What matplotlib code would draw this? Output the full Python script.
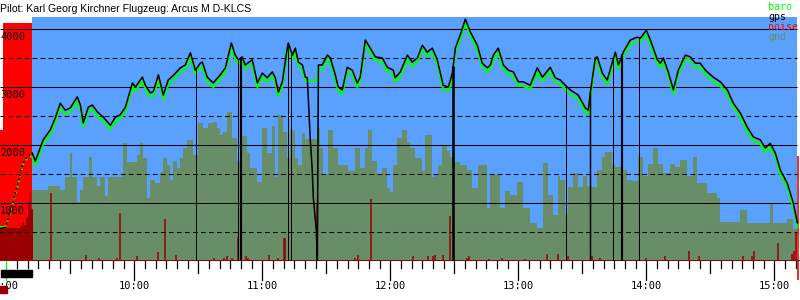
import numpy as np
import matplotlib
matplotlib.use("Agg")
import matplotlib.pyplot as plt
from matplotlib.transforms import blended_transform_factory
from matplotlib.patches import Rectangle

# ---------------- data (time = minutes after 09:00, altitude in m) ----------------
title = "Pilot: Karl Georg Kirchner Flugzeug: Arcus M D-KLCS"
legend_labels = ["baro", "gps", "noise", "gnd"]
hour_labels = ["9:00", "10:00", "11:00", "12:00", "13:00", "14:00", "15:00"]
alt_labels = [1000, 2000, 3000, 4000]

release_t = 12.2
landing_t = 370.8

gps_t = [-2.8, -0.5, 1.4, 3.3, 5.2, 6.6, 8.0, 9.8, 11.3, 12.2, 13.6, 17.3, 20.6, 23.0, 25.3, 27.7,
         30.0, 33.3, 34.7, 36.1, 38.4, 40.3, 42.7, 45.5, 48.8, 51.1, 53.4, 55.8, 59.1, 60.5, 63.8,
         65.2, 67.5, 68.9, 71.3, 73.6, 75.9, 78.3, 81.6, 83.9, 86.3, 88.6, 90.9, 91.9, 94.2, 97.0,
         100.3, 102.7, 105.5, 107.3, 108.8, 110.6, 112.0, 115.3, 117.7, 120.0, 122.3, 124.7, 126.1,
         127.5, 129.4, 131.7, 132.2, 134.1, 135.5, 136.9, 138.8, 140.2, 141.1, 141.6, 142.5, 143.4,
         143.9, 145.3, 145.8, 146.3, 148.1, 150.5, 151.9, 154.2, 155.6, 157.5, 159.8, 162.2, 164.5,
         165.9, 168.3, 170.6, 173.0, 176.3, 178.6, 181.4, 182.3, 184.7, 188.0, 190.3, 192.7, 195.0,
         197.3, 199.7, 202.0, 204.8, 207.2, 209.1, 210.5, 212.8, 215.2, 217.5, 220.8, 223.1, 225.5,
         226.9, 228.3, 230.6, 233.0, 235.3, 237.7, 240.0, 242.3, 245.6, 248.9, 251.3, 255.0, 257.3,
         259.7, 262.0, 264.4, 268.1, 271.4, 272.8, 273.8, 276.1, 277.0, 279.4, 281.7, 284.1, 285.5,
         286.9, 289.2, 292.5, 295.8, 297.2, 300.0, 301.9, 305.2, 306.6, 308.0, 310.3, 312.7, 315.0,
         318.3, 320.6, 323.0, 325.3, 327.7, 331.4, 334.7, 338.0, 340.8, 344.1, 347.3, 350.2, 353.4,
         355.8, 358.1, 360.5, 362.8, 366.1, 368.9, 370.8]
gps_alt = [560, 580, 800, 1050, 1300, 1520, 1700, 1800, 1840, 1860, 1720, 2090, 2260, 2470, 2720, 2600,
           2640, 2830, 2690, 2380, 2650, 2690, 2570, 2480, 2340, 2480, 2520, 2650, 3070, 3000, 3170,
           3030, 2900, 2920, 3210, 2860, 3120, 3200, 3330, 3380, 3590, 3290, 3410, 3430, 3170, 3070,
           3210, 3330, 3760, 3550, 3470, 3520, 3380, 3470, 3070, 3240, 3160, 3260, 3160,
           2910, 3090, 3670, 3760, 3550, 3670, 3430, 3380, 3170, 3160, 2780, 2090, 1570,
           1100, 530, 0, 3380, 3380, 3550, 3500, 3210, 3000, 2950, 3340, 3290, 3070,
           3170, 3810, 3670, 3520, 3500, 3340, 3290, 3160, 3260, 3550, 3430, 3500, 3720,
           3600, 3670, 3470, 3030, 3000, 3240, 3670, 3900, 4170, 3950, 3720, 3410, 3330,
           3380, 3550, 3670, 3380, 3290, 3260, 3090, 3090, 3030, 3330, 3170, 3340, 3160,
           3120, 3030, 2950, 2860, 2640, 2600, 2910, 3500, 3520, 3240, 3120, 3430, 3600,
           3380, 3600, 3810, 3860, 3840, 3980, 3810, 3470, 3410, 3500, 3260, 2950, 3290,
           3550, 3520, 3410, 3410, 3290, 3170, 3090, 2950, 2720, 2550, 2310, 2140, 2090,
           1950, 2030, 1860, 1570, 1340, 1000, 660]
baro_alt = [590, 590, 770, 1020, 1270, 1490, 1670, 1770, 1810, 1790, 1650, 2020, 2190, 2400, 2650, 2530,
            2570, 2760, 2620, 2310, 2580, 2620, 2500, 2410, 2270, 2410, 2450, 2580, 3000, 2930, 3100,
            2960, 2830, 2850, 3140, 2790, 3050, 3130, 3260, 3310, 3520, 3220, 3340, 3360, 3100, 3000,
            3140, 3260, 3690, 3480, 3400, 3450, 3310, 3400, 3000, 3170, 3090, 3190, 3090,
            2840, 3020, 3600, 3690, 3480, 3600, 3360, 3310, 3100, 3100, 3110, 3110, 3110,
            3110, 3110, 3110, 3310, 3310, 3480, 3430, 3140, 2930, 2880, 3270, 3220, 3000,
            3100, 3740, 3600, 3450, 3430, 3270, 3220, 3090, 3190, 3480, 3360, 3430, 3650,
            3530, 3600, 3400, 2960, 2930, 3170, 3600, 3830, 4100, 3880, 3650, 3340, 3260,
            3310, 3480, 3600, 3310, 3220, 3190, 3020, 3020, 2960, 3260, 3100, 3270, 3090,
            3050, 2960, 2880, 2790, 2570, 2530, 2840, 3430, 3450, 3170, 3050, 3360, 3530,
            3310, 3530, 3740, 3790, 3770, 3910, 3740, 3400, 3340, 3430, 3190, 2880, 3220,
            3480, 3450, 3340, 3340, 3220, 3100, 3020, 2880, 2650, 2480, 2240, 2070, 2020,
            1880, 1960, 1790, 1500, 1270, 930, 590]

# GPS altitude dropouts (time, duration in minutes)
dropout_t = [89.1, 108.8, 110.2, 131.9, 133.6, 209.5, 262.5, 273.8, 284.5, 288.8, 296.7]
dropout_dur = [0, 0, 1.0, 0, 0, 1.2, 0, 0.7, 0, 1.0, 0]

# ground elevation (step series)
gnd_t = [12.2, 19.7, 25.3, 27.7, 30.0, 30.9, 33.3, 34.7, 36.1, 38.9, 40.3, 42.7, 44.1, 46.4, 47.8,
         54.8, 56.7, 61.4, 62.8, 64.2, 66.1, 67.5, 69.8, 72.2, 73.6, 75.5, 76.9, 78.3, 80.2, 81.6,
         83.0, 84.8, 87.7, 90.0, 92.3, 94.7, 97.0, 98.9, 100.3, 101.7, 103.6, 105.9, 108.3, 110.6,
         113.0, 114.4, 117.7, 120.0, 122.3, 124.7, 126.1, 127.5, 129.8, 131.7, 133.1, 135.5, 136.9,
         138.8, 140.2, 145.8, 147.2, 148.6, 150.9, 153.3, 155.6, 160.3, 163.6, 165.9, 168.3, 169.7,
         171.6, 173.9, 176.3, 178.6, 180.0, 181.4, 183.3, 185.6, 188.0, 189.4, 191.7, 195.0, 196.4,
         199.7, 201.1, 202.5, 204.4, 206.7, 208.1, 210.5, 212.8, 216.1, 218.4, 221.3, 225.5, 226.9,
         231.6, 233.9, 236.3, 239.5, 242.3, 245.6, 248.9, 251.7, 254.1, 256.4, 258.8, 259.7, 262.0,
         263.4, 265.8, 268.1, 270.5, 272.3, 274.7, 277.0, 279.4, 280.8, 284.1, 285.5, 288.8, 291.1,
         293.4, 296.3, 298.6, 300.9, 303.3, 305.6, 308.0, 311.3, 313.6, 315.9, 319.2, 322.0, 323.9,
         328.6, 333.3, 334.7, 344.1, 347.3, 358.1, 359.5, 366.1, 368.9, 370.8]
gnd_alt = [1220, 1290, 1220, 1450, 1870, 1450, 1020, 1220, 1450, 1790, 1450, 1290, 1450, 1120, 1450,
           2030, 1700, 1830, 2030, 1770, 1090, 1400, 1340, 1540, 1770, 1650, 1400, 1720, 1600, 1770,
           1950, 2090, 1830, 2380, 2290, 2380, 2400, 2290, 2170, 2230, 2570, 2120, 1700, 2150,
           1870, 1600, 1360, 2290, 1870, 2330, 1450, 2520, 2230, 1770, 2260, 1770, 1650,
           2200, 2100, 2290, 1950, 1500, 2260, 1950, 1660, 1550, 1950, 1600, 1950, 2260,
           1720, 1500, 1600, 1260, 1190, 1660, 2120, 2260, 2050, 1950, 1780, 1550, 2170,
           1450, 1500, 1660, 2000, 1890, 1800, 1700, 1660, 1570, 1260, 1660, 910, 1480,
           910, 1200, 1140, 1370, 910, 660, 570, 1690, 1140, 800, 1460, 1400, 830,
           1280, 1520, 1280, 1460, 1300, 1280, 1570, 1790, 1880, 1670, 1620, 1570, 1400,
           1380, 1790, 1460, 1670, 1950, 1670, 1520, 1670, 1620, 1740, 1460, 1790, 1340,
           1170, 1080, 670, 880, 660, 1000, 660, 720, 550, 0]

# motor noise (bright red, step series)
motor_t = [-2.95, -1.4, 12.2]
motor_v = [2260, 4100, 0]
motor_end_t = [371.3]
motor_end_v = [1810]

# engine noise level before release (dark red step series)
pre_noise_t = [-2.95, 6.6, 7.5, 8.4, 9.4, 10.3, 11.3, 11.7, 12.7]
pre_noise_v = [570, 600, 670, 620, 750, 1020, 1190, 900, 0]

# noise spikes during the flight
noise_t = [21.1, 37.5, 43.6, 52.1, 53.4, 61.4, 71.3, 74.5, 79.7, 97.5, 102.2, 103.6, 105.9, 108.8,
           112.5, 113.4, 123.3, 127.5, 130.3, 130.8, 145.8, 163.6, 165.0, 171.1, 190.8, 197.8, 200.2,
           201.1, 204.8, 208.1, 216.1, 217.0, 226.4, 232.5, 243.3, 253.6, 258.8, 263.4, 274.7, 278.4,
           300.0, 308.9, 320.2, 324.8, 345.5, 349.7, 350.6, 361.9, 368.4, 369.4, 370.3]
noise_v = [1170, 100, 50, 60, 830, 80, 150, 720, 100, 60, 60, 80, 60, 410,
           80, 60, 100, 60, 400, 400, 1000, 60, 100, 1070, 80, 80, 90,
           100, 100, 780, 60, 80, 40, 50, 40, 120, 120, 80, 80, 50,
           60, 80, 170, 80, 80, 80, 170, 310, 120, 170, 480]
noise_base = 15

# ---------------- style ----------------
BLUE = "#59a0ff"
OLIVE = "#678e67"
DARKRED = "#990000"
RED = "#ff0000"
GREEN = "#00ff00"
MONO = "DejaVu Sans Mono"
FS = 7.2

W, H = 800, 300
fig = plt.figure(figsize=(W / 100, H / 100), dpi=100)
ax_bottom_px, ax_top_px = 261, 17
ax = fig.add_axes([0, (H - ax_bottom_px) / H, 1, (ax_bottom_px - ax_top_px) / H])
x0, x1 = -2.95, 372.05
ax.set_xlim(x0, x1)
ax.set_ylim(0, 4207)
ax.axis("off")
ax_h_px = ax_bottom_px - ax_top_px
px_per_min = W / (x1 - x0)

# sky during free flight
ax.axvspan(release_t, landing_t, color=BLUE, lw=0, zorder=0)
# motor noise
ax.fill_between(motor_t, motor_v, step="post", color=RED, lw=0, zorder=1)
ax.vlines(motor_end_t, 0, motor_end_v, color=RED, lw=1.2, zorder=1)
# ground
ax.fill_between(gnd_t, gnd_alt, step="post", color=OLIVE, lw=0, zorder=2)
# noise
ax.fill_between(pre_noise_t, pre_noise_v, step="post", color=DARKRED, lw=0, zorder=3)
ax.vlines(noise_t, 0, noise_v, color=DARKRED, lw=1.1, zorder=3)
ax.fill_between([x0, x1], [noise_base, noise_base], 0, color=DARKRED, lw=0, zorder=3)

# grid
grid_end = landing_t
for v in [1000, 2000, 3000, 4000]:
    ax.hlines(v, x0, grid_end, color="black", lw=0.75, zorder=4)
for v in [500, 1500, 2500, 3500]:
    ax.hlines(v, x0, grid_end, color="black", lw=0.75, linestyles=(0, (4.5, 3.2)), zorder=4)

# baro and gps lines
gt = np.array(gps_t)
ga = np.array(gps_alt)
ba = np.array(baro_alt)
climb = gt <= release_t
flight = gt >= release_t
ground = gt <= -0.5
ax.plot(gt[ground], ba[ground], color=GREEN, lw=1.4, zorder=5)
ax.plot(gt[ground], ga[ground], color="black", lw=1.0, zorder=6)
cl = (gt >= -0.5) & climb
ax.plot(gt[cl], ba[cl], color=GREEN, lw=1.4, ls=(0, (1, 2)), zorder=5)
ax.plot(gt[cl], ga[cl], color="black", lw=1.1, ls=(1, (1, 2)), zorder=6)
ax.plot(gt[flight], ba[flight], color=GREEN, lw=1.6, zorder=5)
ax.plot(gt[flight], ga[flight], color="black", lw=1.1, zorder=6)

# gps dropouts
for t, d in zip(dropout_t, dropout_dur):
    top = np.interp(t, gt, ga)
    lw_px = max(1.0, d * px_per_min)
    ax.vlines(t, 0, top, color="black", lw=lw_px * 0.72, zorder=6)

# y labels inside the plot
ytrans = blended_transform_factory(ax.transAxes, ax.transData)
for v in alt_labels:
    ax.annotate(str(v), xy=(0, v), xycoords=ytrans, xytext=(0, -2.5),
                textcoords="offset pixels", ha="left", va="top",
                fontsize=FS + 0.3, family=MONO, color="black", zorder=8)

# time axis ticks
xtrans = blended_transform_factory(ax.transData, ax.transAxes)
for m in range(0, 371, 5):
    if m % 60 == 0:
        L = 19
    elif m % 30 == 0:
        L = 12
    else:
        L = 7
    col = GREEN if m == 0 else "black"
    ax.plot([m, m], [0, -L / ax_h_px], color=col, lw=0.9, transform=xtrans, clip_on=False, zorder=7)
for i, lab in enumerate(hour_labels):
    ax.text(i * 60, -25 / ax_h_px, lab, ha="center", va="center", fontsize=FS + 0.3, family=MONO,
            transform=xtrans, clip_on=False)

# motor-run bar under the time axis
ax.add_patch(Rectangle((x0 + 0.5, -16 / ax_h_px), release_t - x0 - 0.5, 7 / ax_h_px,
                       transform=xtrans, color="black", clip_on=False, zorder=8))
ax.add_patch(Rectangle((x0, -32 / ax_h_px), 0.3 - x0, 7 / ax_h_px,
                       transform=xtrans, color=DARKRED, clip_on=False, zorder=8))
ax.vlines(motor_end_t, -19 / ax_h_px, 0, color=RED, lw=1.2, transform=xtrans, clip_on=False)

# title and legend
fig.text(0.0, 1 - 12 / H, title, ha="left", va="baseline", fontsize=7.6,
         family="Liberation Sans", color="black")
leg_colors = [GREEN, "black", RED, OLIVE]
for i, (lab, c) in enumerate(zip(legend_labels, leg_colors)):
    fig.text(768 / W, 1 - (10 + 10 * i) / H, lab, ha="left", va="baseline",
             fontsize=FS, family=MONO, color=c, zorder=10)

fig.savefig("out.png", dpi=100)
